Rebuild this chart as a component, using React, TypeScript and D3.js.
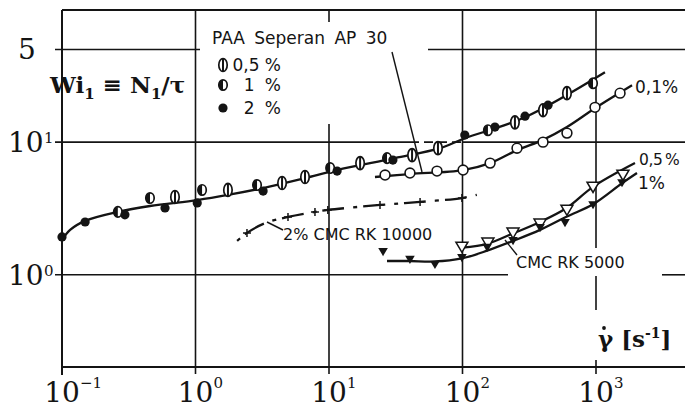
import React from 'react';
import * as d3 from 'd3';

// ---------- data ----------
// PAA Seperan AP 30 – upper curve
const paa2X = [0.1, 0.149, 0.296, 0.591, 1.03, 3.21, 11.5, 30.1, 104, 175, 294, 437];
const paa2Y = [1.93, 2.5, 2.83, 3.19, 3.48, 4.28, 6.05, 7.32, 11.3, 13.0, 15.7, 19.0];
const paa1X = [0.262, 0.456, 1.12, 2.89, 10.2, 27.2, 155, 950];
const paa1Y = [2.98, 3.79, 4.36, 4.75, 6.38, 7.58, 12.3, 27.8];
const paa05X = [0.702, 1.75, 4.45, 6.61, 17.1, 41.9, 65.5, 247, 401, 606];
const paa05Y = [3.86, 4.36, 4.92, 5.46, 6.95, 7.99, 9.01, 14.1, 17.4, 23.4];
const paaFitX = [0.1, 0.115, 0.149, 0.262, 0.456, 1.03, 1.75, 3.21, 6.61, 11.5, 31.2, 67.8, 104, 294, 1167];
const paaFitY = [1.83, 2.18, 2.55, 2.98, 3.3, 3.66, 4.0, 4.51, 5.36, 6.16, 7.58, 9.01, 10.7, 15.4, 33.6];

// PAA 0,1 %
const p01X = [26.3, 40.4, 64.4, 101, 161, 256, 401, 606, 983, 1514];
const p01Y = [5.65, 5.85, 6.05, 6.16, 6.95, 9.0, 10.0, 11.7, 18.3, 23.4];
const p01FitX = [22.1, 40.4, 101, 161, 256, 401, 606, 983, 1862];
const p01FitY = [5.46, 5.75, 6.16, 6.95, 8.71, 10.4, 13.0, 18.0, 26.8];

// 2 % CMC RK 10000
const cmc10kX = [2.43, 4.93, 7.85, 9.8, 24.1, 48.1, 99];
const cmc10kY = [2.07, 2.73, 2.98, 3.08, 3.36, 3.54, 3.79];
const cmc10kFitX = [2.05, 2.43, 3.32, 4.93, 7.85, 9.8, 24.1, 48.1, 99, 128];
const cmc10kFitY = [1.8, 2.07, 2.45, 2.73, 2.98, 3.08, 3.36, 3.54, 3.79, 4.0];

// CMC RK 5000, 0,5 %
const c05X = [99, 155, 239, 381, 606, 950, 1592];
const c05Y = [1.62, 1.74, 2.07, 2.42, 3.08, 4.59, 5.65];
const c05FitX = [99, 155, 239, 381, 606, 950, 1959];
const c05FitY = [1.6, 1.72, 2.05, 2.5, 3.2, 4.6, 6.95];

// CMC RK 5000, 1 %
const c1X = [25.4, 40.4, 62.2, 99, 153, 239, 381, 586, 950, 1566];
const c1Y = [1.49, 1.3, 1.19, 1.34, 1.6, 1.8, 2.26, 2.46, 3.36, 4.92];
const c1FitX = [27.2, 40, 62, 99, 153, 239, 381, 606, 950, 1566, 2028];
const c1FitY = [1.27, 1.27, 1.26, 1.33, 1.52, 1.8, 2.18, 2.75, 3.4, 4.9, 5.85];

// axes
const xTickValues = [0.1, 1, 10, 100, 1000];
const xTickExps = ['\u22121', '0', '1', '2', '3'];
const yTickValues = [50, 10, 1];
const yTickBases = ['5', '10', '10'];
const yTickExps = ['', '1', '0'];

// ---------- layout ----------
const W = 685;
const H = 412;
const x = d3.scaleLog().domain([0.1, 1000]).range([62, 596]);
const y = d3.scaleLog().domain([0.2, 100]).range([367.5, 9.5]);
const INK = '#141414';
const SANS = 'DejaVu Sans, sans-serif';
const SERIF = 'DejaVu Serif, serif';

type P = [number, number];
const zip = (xs: number[], ys: number[]): P[] => xs.map((v, i) => [v, ys[i]]);
const line = d3
  .line<P>()
  .x((d) => x(d[0]))
  .y((d) => y(d[1]))
  .curve(d3.curveCatmullRom.alpha(0.5));

const Filled = ({ cx, cy, r = 4.6 }: any) => <circle cx={cx} cy={cy} r={r} fill={INK} />;
const HalfEll = ({ cx, cy }: any) => (
  <g>
    <ellipse cx={cx} cy={cy} rx={4.2} ry={5.2} fill="#fff" stroke={INK} strokeWidth={1.7} />
    <path d={`M${cx},${cy - 5.2} A4.2,5.2 0 0 0 ${cx},${cy + 5.2} Z`} fill={INK} />
  </g>
);
const Theta = ({ cx, cy }: any) => (
  <g>
    <ellipse cx={cx} cy={cy} rx={4.2} ry={6.5} fill="#fff" stroke={INK} strokeWidth={1.7} />
    <line x1={cx} x2={cx} y1={cy - 6.5} y2={cy + 6.5} stroke={INK} strokeWidth={2} />
  </g>
);

export default function App() {
  const gridV: { v: number; segs: [number, number][] }[] = [
    { v: 1, segs: [[10, 374]] },
    { v: 10, segs: [[10, 22], [124, 374]] },
    { v: 100, segs: [[10, 374]] },
    { v: 1000, segs: [[10, 248], [276, 310], [360, 374]] },
  ];
  const gridH: { v: number; segs: [number, number, boolean][] }[] = [
    { v: 50, segs: [[55, 200, false], [428, 685, false]] },
    { v: 10, segs: [[55, 410, false], [410, 463, true], [463, 685, false]] },
    { v: 1, segs: [[55, 508, false], [662, 685, false]] },
  ];

  const tri = (cx: number, cy: number, s: number) =>
    `M${cx - s},${cy - s * 0.8} L${cx + s},${cy - s * 0.8} L${cx},${cy + s * 0.9} Z`;

  return (
    <svg
      width={W}
      height={H}
      viewBox={`0 0 ${W} ${H}`}
      style={{ position: 'absolute', left: 0, top: 0, background: '#fff' }}
    >
      <rect x={0} y={0} width={W} height={H} fill="#fff" />
      {/* frame */}
      <line x1={62} x2={62} y1={10} y2={375} stroke={INK} strokeWidth={2} />
      <line x1={62} x2={W} y1={10} y2={10} stroke={INK} strokeWidth={2} />
      <line x1={62} x2={W} y1={367} y2={367} stroke={INK} strokeWidth={2} />
      {/* grid */}
      {gridV.map((g, i) =>
        g.segs.map((s, j) => (
          <line key={`v${i}${j}`} x1={x(g.v)} x2={x(g.v)} y1={s[0]} y2={s[1]} stroke={INK} strokeWidth={1.6} />
        ))
      )}
      {gridH.map((g, i) =>
        g.segs.map((s, j) => (
          <line
            key={`h${i}${j}`}
            x1={s[0]}
            x2={s[1]}
            y1={y(g.v)}
            y2={y(g.v)}
            stroke={INK}
            strokeWidth={1.6}
            strokeDasharray={s[2] ? '9,5' : undefined}
          />
        ))
      )}

      {/* x tick labels */}
      {xTickValues.map((v, i) => (
        <g key={`xt${i}`} fill={INK} fontFamily={SERIF}>
          <text x={x(v)} y={402} textAnchor="middle" fontSize={28}>10</text>
          <text x={x(v) + 18} y={388} fontSize={15}>{xTickExps[i]}</text>
        </g>
      ))}
      {/* y tick labels */}
      {yTickValues.map((v, i) => (
        <g key={`yt${i}`} fill={INK} fontFamily={SERIF}>
          <text x={yTickExps[i] ? 8 : 18} y={y(v) + 10} fontSize={28}>{yTickBases[i]}</text>
          {yTickExps[i] && (
            <text x={44} y={y(v) + 1} fontSize={15}>{yTickExps[i]}</text>
          )}
        </g>
      ))}

      {/* axis titles */}
      <text x={50} y={93} fontFamily={SERIF} fontWeight="bold" fontSize={23} fill={INK}>
        Wi<tspan dy={6} fontSize={15}>1</tspan>
        <tspan dy={-6}> ≡ N</tspan>
        <tspan dy={6} fontSize={15}>1</tspan>
        <tspan dy={-6}>/τ</tspan>
      </text>
      <text x={598} y={347} fontFamily={SERIF} fontWeight="bold" fontSize={23} fill={INK}>
        γ [s<tspan dy={-9} fontSize={14}>-1</tspan>
        <tspan dy={9}>]</tspan>
      </text>
      <circle cx={604} cy={328} r={1.9} fill={INK} />

      {/* curves */}
      <path d={line(zip(paaFitX, paaFitY)) || ''} fill="none" stroke={INK} strokeWidth={2.3} />
      <path d={line(zip(p01FitX, p01FitY)) || ''} fill="none" stroke={INK} strokeWidth={2.3} />
      <path d={line(zip(c05FitX, c05FitY)) || ''} fill="none" stroke={INK} strokeWidth={2.3} />
      <path d={line(zip(c1FitX, c1FitY)) || ''} fill="none" stroke={INK} strokeWidth={2.3} />
      <path
        d={line(zip(cmc10kFitX, cmc10kFitY)) || ''}
        fill="none"
        stroke={INK}
        strokeWidth={2.3}
        strokeDasharray="4,6,22,9"
      />

      {/* markers: PAA */}
      {zip(paa05X, paa05Y).map((d, i) => <Theta key={`a${i}`} cx={x(d[0])} cy={y(d[1])} />)}
      {zip(paa1X, paa1Y).map((d, i) => <HalfEll key={`b${i}`} cx={x(d[0])} cy={y(d[1])} />)}
      {zip(paa2X, paa2Y).map((d, i) => <Filled key={`c${i}`} cx={x(d[0])} cy={y(d[1])} />)}
      {/* PAA 0,1% */}
      {zip(p01X, p01Y).map((d, i) => (
        <circle key={`d${i}`} cx={x(d[0])} cy={y(d[1])} r={4.9} fill="#fff" stroke={INK} strokeWidth={1.6} />
      ))}
      {/* CMC 10000 plus */}
      {zip(cmc10kX, cmc10kY).map((d, i) => {
        const cx = x(d[0]);
        const cy = y(d[1]);
        return (
          <path key={`e${i}`} d={`M${cx - 4},${cy} H${cx + 4} M${cx},${cy - 4} V${cy + 4}`} stroke={INK} strokeWidth={1.5} />
        );
      })}
      {/* CMC 5000 */}
      {zip(c05X, c05Y).map((d, i) => (
        <path key={`f${i}`} d={tri(x(d[0]), y(d[1]), 6)} fill="#fff" stroke={INK} strokeWidth={1.5} />
      ))}
      {zip(c1X, c1Y).map((d, i) => (
        <path key={`g${i}`} d={tri(x(d[0]), y(d[1]), 4.8)} fill={INK} />
      ))}

      {/* annotations */}
      <g fontFamily={SANS} fontSize={17} fill={INK}>
        <text x={212} y={44} wordSpacing={4}>PAA Seperan AP 30</text>
        <text x={281} y={71} textAnchor="end">0,5 %</text>
        <text x={281} y={91} textAnchor="end" wordSpacing={5}>1 %</text>
        <text x={281} y={114} textAnchor="end" wordSpacing={5}>2 %</text>
        <text x={635} y={93}>0,1%</text>
        <text x={639} y={165} fontSize={15.5} letterSpacing={-0.4} wordSpacing={-2}>0,5 %</text>
        <text x={638} y={189}>1%</text>
        <text x={283} y={240} fontSize={16}>2% CMC RK 10000</text>
        <text x={516} y={268} fontSize={16}>CMC RK 5000</text>
      </g>
      <Theta cx={223} cy={65} />
      <HalfEll cx={223} cy={85} />
      <Filled cx={223} cy={108} />
      <line x1={392} y1={52} x2={422} y2={172} stroke={INK} strokeWidth={1.4} />
      <line x1={267} y1={222} x2={283} y2={230} stroke={INK} strokeWidth={1.4} />
      <line x1={505} y1={240} x2={517} y2={255} stroke={INK} strokeWidth={1.4} />
    </svg>
  );
}
